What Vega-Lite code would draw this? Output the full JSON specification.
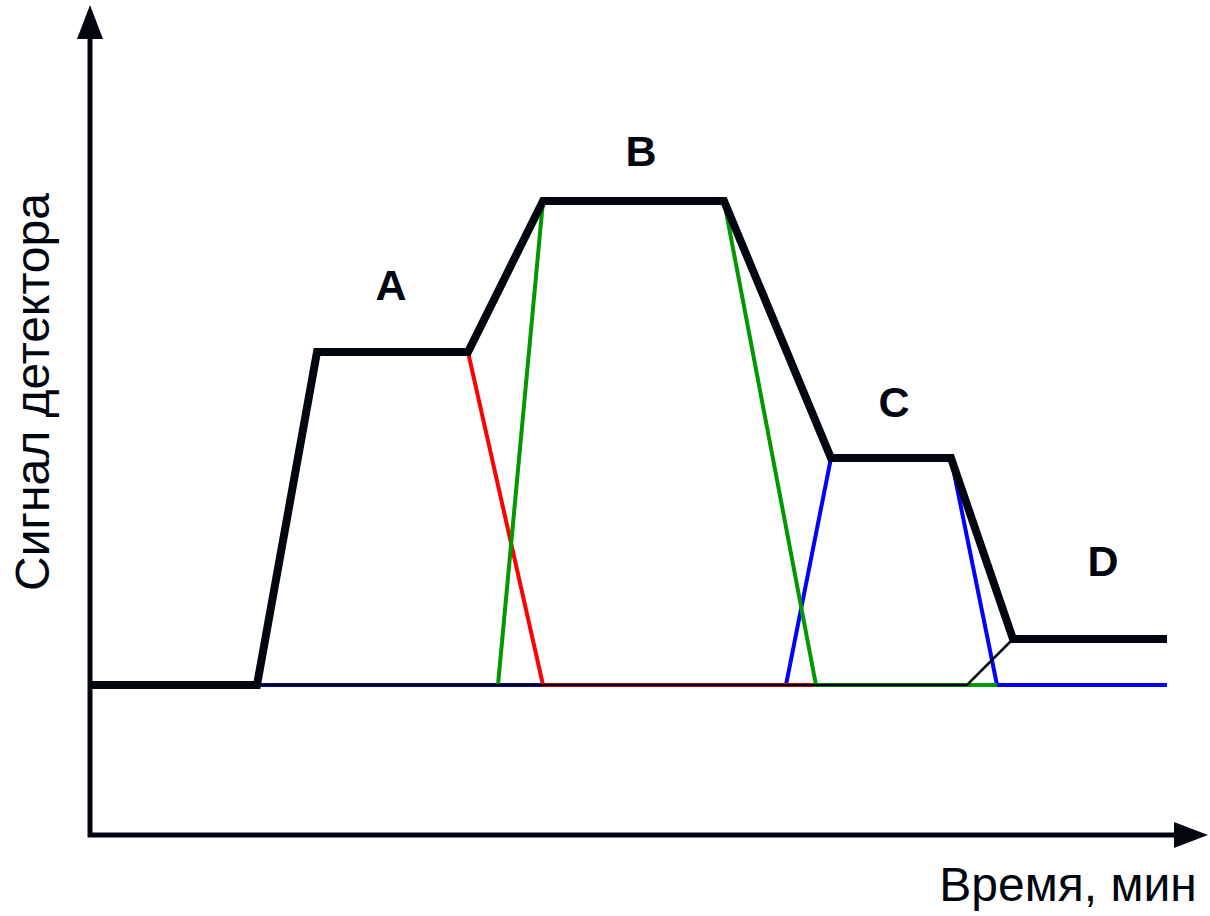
{
  "$schema": "https://vega.github.io/schema/vega-lite/v6.json",
  "width": 1210,
  "height": 916,
  "autosize": {"type": "fit", "contains": "padding"},
  "padding": 0,
  "background": "white",
  "config": {"view": {"stroke": null}},
  "datasets": {
    "axes": [
      {"o": 1, "x": 0, "y": 79.6},
      {"o": 2, "x": 0, "y": 0},
      {"o": 3, "x": 108.4, "y": 0}
    ],
    "curves": [
      {"s": "C", "o": 1, "x": 16.7, "y": 15},
      {"s": "C", "o": 2, "x": 69.6, "y": 15},
      {"s": "C", "o": 3, "x": 74.1, "y": 37.7},
      {"s": "C", "o": 4, "x": 86.1, "y": 37.7},
      {"s": "C", "o": 5, "x": 90.7, "y": 15},
      {"s": "C", "o": 6, "x": 107.7, "y": 15},
      {"s": "A", "o": 1, "x": 16.7, "y": 15},
      {"s": "A", "o": 2, "x": 22.7, "y": 48.3},
      {"s": "A", "o": 3, "x": 37.8, "y": 48.3},
      {"s": "A", "o": 4, "x": 45.3, "y": 15},
      {"s": "A", "o": 5, "x": 72.6, "y": 15},
      {"s": "B", "o": 1, "x": 40.8, "y": 15},
      {"s": "B", "o": 2, "x": 45.3, "y": 63.4},
      {"s": "B", "o": 3, "x": 63.4, "y": 63.4},
      {"s": "B", "o": 4, "x": 72.6, "y": 15},
      {"s": "B", "o": 5, "x": 90.7, "y": 15},
      {"s": "D", "o": 1, "x": 16.7, "y": 15},
      {"s": "D", "o": 2, "x": 87.7, "y": 15},
      {"s": "D", "o": 3, "x": 92.3, "y": 19.6},
      {"s": "T", "o": 1, "x": 0, "y": 15},
      {"s": "T", "o": 2, "x": 16.7, "y": 15},
      {"s": "T", "o": 3, "x": 22.7, "y": 48.3},
      {"s": "T", "o": 4, "x": 37.8, "y": 48.3},
      {"s": "T", "o": 5, "x": 45.3, "y": 63.4},
      {"s": "T", "o": 6, "x": 63.4, "y": 63.4},
      {"s": "T", "o": 7, "x": 74.1, "y": 37.7},
      {"s": "T", "o": 8, "x": 86.1, "y": 37.7},
      {"s": "T", "o": 9, "x": 92.3, "y": 19.6},
      {"s": "T", "o": 10, "x": 107.7, "y": 19.6}
    ],
    "arrows": [
      {"d": "up", "x": 0, "y": 81.3},
      {"d": "right", "x": 110.1, "y": 0}
    ],
    "peaks": [
      {"t": "A", "x": 30.1, "y": 54.8},
      {"t": "B", "x": 55.1, "y": 68.2},
      {"t": "C", "x": 80.4, "y": 43.1},
      {"t": "D", "x": 101.3, "y": 27.2}
    ],
    "titles": [
      {"t": "Сигнал детектора", "x": -5.5, "y": 44.3, "a": 270},
      {"t": "Время, мин", "x": 97.8, "y": -5.2, "a": 0}
    ]
  },
  "encoding": {
    "x": {"field": "x", "type": "quantitative", "scale": {"domain": [-9, 112], "nice": false, "zero": false}, "axis": null},
    "y": {"field": "y", "type": "quantitative", "scale": {"domain": [-8.1, 83.5], "nice": false, "zero": false}, "axis": null}
  },
  "layer": [
    {
      "data": {"name": "axes"},
      "mark": {"type": "line", "color": "#020611", "strokeWidth": 5, "strokeJoin": "miter", "strokeCap": "butt"},
      "encoding": {"order": {"field": "o", "type": "quantitative"}}
    },
    {
      "data": {"name": "curves"},
      "transform": [{"filter": "datum.s === 'C'"}],
      "mark": {"type": "line", "color": "#0000ff", "strokeWidth": 4, "strokeJoin": "miter"},
      "encoding": {"order": {"field": "o", "type": "quantitative"}}
    },
    {
      "data": {"name": "curves"},
      "transform": [{"filter": "datum.s === 'A'"}],
      "mark": {"type": "line", "color": "#ff0000", "strokeWidth": 4, "strokeJoin": "miter"},
      "encoding": {"order": {"field": "o", "type": "quantitative"}}
    },
    {
      "data": {"name": "curves"},
      "transform": [{"filter": "datum.s === 'B'"}],
      "mark": {"type": "line", "color": "#009900", "strokeWidth": 4, "strokeJoin": "miter"},
      "encoding": {"order": {"field": "o", "type": "quantitative"}}
    },
    {
      "data": {"name": "curves"},
      "transform": [{"filter": "datum.s === 'D'"}],
      "mark": {"type": "line", "color": "#020611", "strokeWidth": 2.5, "strokeJoin": "miter"},
      "encoding": {"order": {"field": "o", "type": "quantitative"}}
    },
    {
      "data": {"name": "curves"},
      "transform": [{"filter": "datum.s === 'T'"}],
      "mark": {"type": "line", "color": "#020611", "strokeWidth": 8, "strokeJoin": "miter", "strokeCap": "butt"},
      "encoding": {"order": {"field": "o", "type": "quantitative"}}
    },
    {
      "data": {"name": "arrows"},
      "transform": [{"filter": "datum.d === 'up'"}],
      "mark": {"type": "point", "filled": true, "shape": "M0,-1L0.765,1L-0.765,1Z", "size": 1156, "fill": "#020611", "opacity": 1, "strokeWidth": 0}
    },
    {
      "data": {"name": "arrows"},
      "transform": [{"filter": "datum.d === 'right'"}],
      "mark": {"type": "point", "filled": true, "shape": "M1,0L-1,-0.765L-1,0.765Z", "size": 1156, "fill": "#020611", "opacity": 1, "strokeWidth": 0}
    },
    {
      "data": {"name": "peaks"},
      "mark": {"type": "text", "font": "Liberation Sans", "fontSize": 43, "fontWeight": "bold", "color": "#020611", "align": "center", "baseline": "middle"},
      "encoding": {"text": {"field": "t"}}
    },
    {
      "data": {"name": "titles"},
      "mark": {"type": "text", "font": "Liberation Sans", "fontSize": 48, "color": "#020611", "align": "center", "baseline": "middle"},
      "encoding": {"text": {"field": "t"}, "angle": {"field": "a", "type": "quantitative", "scale": null}}
    }
  ]
}
